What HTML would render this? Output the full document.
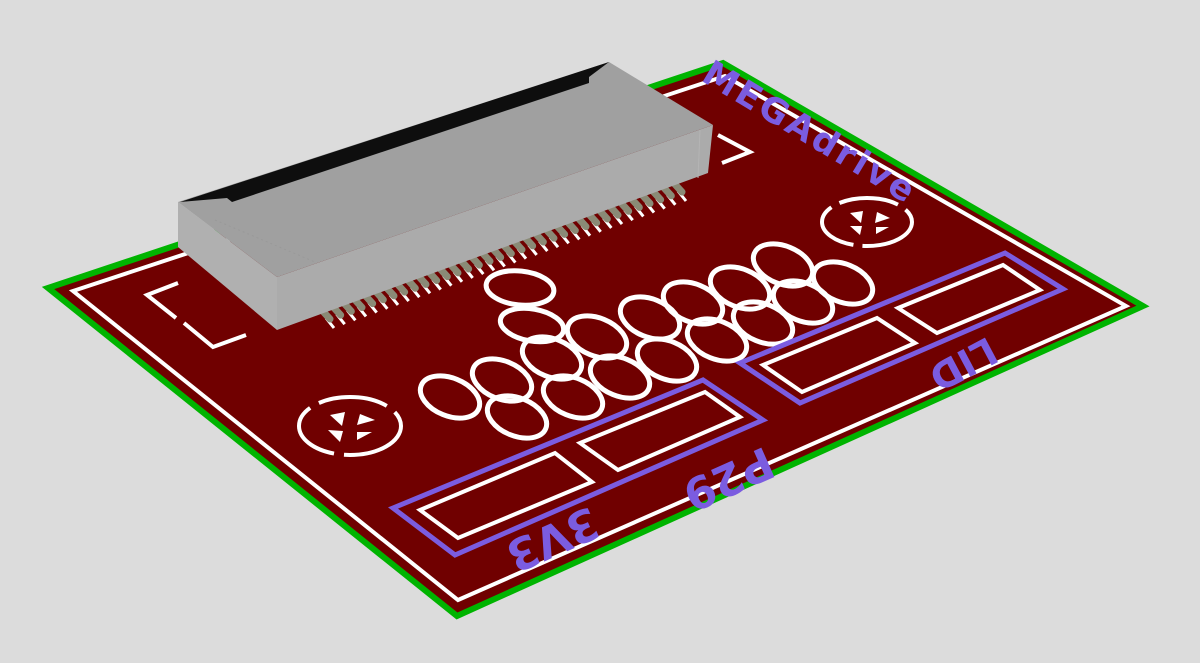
<!DOCTYPE html>
<html><head><meta charset="utf-8"><style>
html,body{margin:0;padding:0;background:#dcdcdc;}
svg{display:block}
text{font-family:"DejaVu Sans","Liberation Sans",sans-serif;fill:#7b5ce0;font-weight:bold}
</style></head><body>
<svg width="1200" height="663" viewBox="0 0 1200 663" xmlns="http://www.w3.org/2000/svg">
<rect width="1200" height="663" fill="#dcdcdc"/>
<polygon points="48,288 723,63 1143,306 457,616" fill="#700000" stroke="#00b400" stroke-width="6" stroke-linejoin="miter"/>
<polygon points="73,291 725,76 1126,306 458,600" fill="none" stroke="#ffffff" stroke-width="4"/>
<g stroke="#fff" stroke-width="4" fill="none">
<polyline points="178,283 147,295 176,318"/>
<polyline points="184,323 213,347 246,335"/>
<polyline points="718,135 750,152 722,163"/>
</g>
<g stroke="#fff" stroke-width="4" fill="none">
<ellipse cx="350" cy="426" rx="51" ry="29" stroke-dasharray="70 10"/>
<ellipse cx="867" cy="222" rx="45" ry="24" stroke-dasharray="60 9"/>
</g>
<g fill="#fff">
<polygon points="330,415 345,412 342,426"/><polygon points="360,414 375,420 357,425"/><polygon points="328,430 343,431 340,442"/><polygon points="357,432 372,432 357,440"/>
<polygon points="850,213 863,211 861,223"/><polygon points="877,212 890,218 875,223"/><polygon points="850,226 862,226 860,235"/><polygon points="876,227 889,227 876,234"/>
</g>
<g stroke="#fff" stroke-width="5" fill="none">
<ellipse cx="520" cy="288" rx="34" ry="17" transform="rotate(6 520 288)"/>
<ellipse cx="532" cy="325" rx="32" ry="16" transform="rotate(10 532 325)"/>
<ellipse cx="783" cy="265" rx="31" ry="19" transform="rotate(22 783 265)"/>
<ellipse cx="740" cy="288" rx="31" ry="19" transform="rotate(22 740 288)"/>
<ellipse cx="693" cy="303" rx="31" ry="19" transform="rotate(22 693 303)"/>
<ellipse cx="650" cy="318" rx="31" ry="19" transform="rotate(22 650 318)"/>
<ellipse cx="597" cy="337" rx="31" ry="19" transform="rotate(22 597 337)"/>
<ellipse cx="843" cy="283" rx="31" ry="19" transform="rotate(22 843 283)"/>
<ellipse cx="803" cy="302" rx="31" ry="19" transform="rotate(22 803 302)"/>
<ellipse cx="763" cy="323" rx="31" ry="19" transform="rotate(22 763 323)"/>
<ellipse cx="717" cy="340" rx="31" ry="19" transform="rotate(22 717 340)"/>
<ellipse cx="667" cy="360" rx="31" ry="19" transform="rotate(22 667 360)"/>
<ellipse cx="620" cy="377" rx="31" ry="19" transform="rotate(22 620 377)"/>
<ellipse cx="552" cy="358" rx="31" ry="19" transform="rotate(22 552 358)"/>
<ellipse cx="502" cy="380" rx="31" ry="19" transform="rotate(22 502 380)"/>
<ellipse cx="450" cy="397" rx="31" ry="19" transform="rotate(22 450 397)"/>
<ellipse cx="573" cy="397" rx="31" ry="19" transform="rotate(22 573 397)"/>
<ellipse cx="517" cy="417" rx="31" ry="19" transform="rotate(22 517 417)"/>
</g>
<g fill="none" stroke="#fff" stroke-width="4">
<polygon points="420,510 555,453 592,482 458,538"/>
<polygon points="580,443 705,392 740,417 618,470"/>
<polygon points="763,365 877,318 915,343 802,392"/>
<polygon points="898,308 1003,265 1040,290 937,333"/>
</g>
<g fill="none" stroke="#7b5ce0" stroke-width="5">
<polygon points="393,508 703,380 763,420 455,555"/>
<polygon points="740,363 1005,253 1063,289 800,403"/>
</g>
<text x="0" y="0" font-size="44" transform="translate(765,446) rotate(156)">P29</text>
<text x="0" y="0" font-size="44" transform="translate(590,506) rotate(156)">3V3</text>
<text x="0" y="0" font-size="38" transform="translate(988,336) rotate(152)">LID</text>
<text x="0" y="0" font-size="35" font-weight="normal" textLength="240" transform="translate(700,80) rotate(31)">MEGAdrive</text>
<g id="pins"></g>
<polygon points="178,202 277,277 277,330 178,247" fill="#b0b0b0"/>
<polygon points="277,277 713,125 708,173 277,330" fill="#ababab"/>
<polygon points="178,202 609,62 713,125 277,277" fill="#a0a0a0"/>
<polygon points="180,202 609,62 589,77 589,83 232,202 227,198" fill="#0e0e0e"/>
<line x1="215" y1="220" x2="315" y2="262" stroke="#999" stroke-width="1" stroke-dasharray="2 3"/>
<line x1="700" y1="130" x2="698" y2="178" stroke="#b4b4b4" stroke-width="1"/>
</svg>
<script>
var g=document.getElementById('pins'),n=34,s='';
for(var i=0;i<n;i++){var t=i/(n-1);var x=322+(674-322)*t,y=312+(185-312)*t;
s+='<line x1="'+(x+4)+'" y1="'+(y+6)+'" x2="'+(x+12)+'" y2="'+(y+16)+'" stroke="#fff" stroke-width="3"/>';
s+='<line x1="'+(x-3)+'" y1="'+(y-5)+'" x2="'+(x+8)+'" y2="'+(y+7)+'" stroke="#8a8a76" stroke-width="7" stroke-linecap="round"/>';}
g.innerHTML=s;
</script>
</body></html>
